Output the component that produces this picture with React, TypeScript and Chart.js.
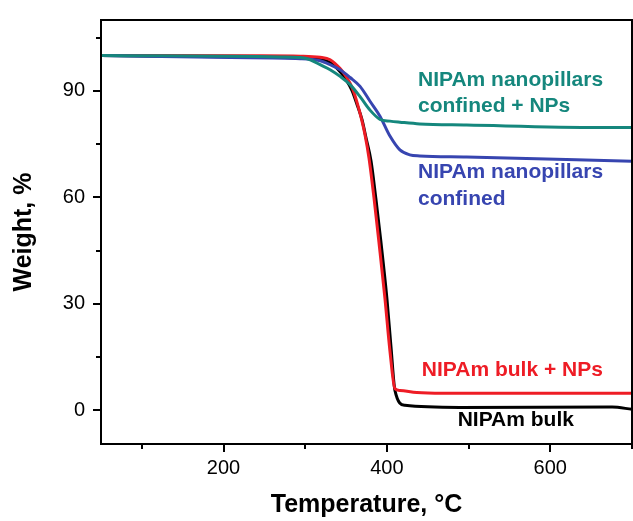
import React, { useEffect, useRef } from "react";
import { Chart, registerables } from "chart.js";

Chart.register(...registerables);

// Temperature (°C) / weight (%) pairs
const bulkX = [50, 233, 294, 318, 330.5, 342.7, 350, 357.3, 363.4, 369.5, 374.4, 380.5, 386.6, 392.7, 400, 404.9, 409.8, 422, 489, 675.6, 700];
const bulkY = [100, 99.6, 99.3, 98.9, 98.0, 95.4, 93.2, 90.1, 86.2, 81.9, 76.8, 70.3, 59.4, 47.4, 31.5, 18.1, 5.6, 1.4, 0.8, 0.9, 0.3];

const bulkNPsX = [50, 233, 294, 318, 330.5, 342.7, 350, 357.3, 363.4, 368.3, 373.2, 378, 384.1, 390.2, 397.6, 403.7, 409.8, 415.9, 436.6, 468.3, 700];
const bulkNPsY = [100, 99.9, 99.8, 99.5, 98.8, 96.3, 94.1, 91.0, 86.8, 82.6, 77.6, 71.2, 60.0, 47.4, 31.5, 16.7, 6.1, 5.6, 5.0, 4.8, 4.8];

const confX = [50, 208.5, 294, 318.3, 330.5, 342.7, 354.9, 367.1, 379.3, 391.5, 403.7, 415.9, 428, 440.2, 497.6, 700];
const confY = [100, 99.4, 99.1, 98.5, 97.4, 96.0, 93.8, 91.3, 87.1, 82.9, 77.3, 73.4, 72.0, 71.7, 71.4, 70.2];

const confNPsX = [50, 269.5, 294, 306.1, 318.3, 330.5, 342.7, 354.9, 367.1, 379.3, 391.5, 403.7, 415.9, 440.2, 497.6, 659.8, 700];
const confNPsY = [100, 99.6, 99.4, 98.8, 97.4, 96.0, 94.1, 91.8, 88.4, 84.6, 82.0, 81.5, 81.2, 80.7, 80.4, 79.7, 79.7];

const xMajorTicks = [200, 400, 600];
const xMinorTicks = [100, 300, 500, 700];
const yMajorTicks = [0, 30, 60, 90];
const yMinorTicks = [15, 45, 75, 105];

const TEAL = "#15877d";
const BLUE = "#3745b0";
const RED = "#ee1c25";
const BLACK = "#000000";

const labelTexts = [
  { text: "NIPAm nanopillars", x: 438, y: 92.9, color: TEAL },
  { text: "confined + NPs", x: 438, y: 85.7, color: TEAL },
  { text: "NIPAm nanopillars", x: 438, y: 67.0, color: BLUE },
  { text: "confined", x: 438, y: 59.4, color: BLUE },
  { text: "NIPAm bulk + NPs", x: 442.7, y: 11.2, color: RED },
  { text: "NIPAm bulk", x: 486.6, y: -2.8, color: BLACK },
];

const FONT = '"Liberation Sans", Arial, sans-serif';

const zip = (xs: number[], ys: number[]) => xs.map((x, i) => ({ x, y: ys[i] }));

const framePlugin = {
  id: "frameAndMinor",
  afterDatasetsDraw(chart: any) {
    const { ctx, chartArea } = chart;
    const xs = chart.scales.x;
    const ys = chart.scales.y;
    ctx.save();
    ctx.strokeStyle = "#000";
    ctx.lineWidth = 2;
    ctx.strokeRect(chartArea.left, chartArea.top, chartArea.right - chartArea.left, chartArea.bottom - chartArea.top);
    ctx.beginPath();
    xMinorTicks.forEach((v) => {
      const px = Math.round(xs.getPixelForValue(v));
      ctx.moveTo(px, chartArea.bottom);
      ctx.lineTo(px, chartArea.bottom + 5);
    });
    yMinorTicks.forEach((v) => {
      const py = Math.round(ys.getPixelForValue(v));
      ctx.moveTo(chartArea.left, py);
      ctx.lineTo(chartArea.left - 5, py);
    });
    ctx.stroke();
    ctx.font = `bold 21px ${FONT}`;
    ctx.textAlign = "left";
    ctx.textBaseline = "middle";
    labelTexts.forEach((l) => {
      ctx.fillStyle = l.color;
      ctx.fillText(l.text, xs.getPixelForValue(l.x), ys.getPixelForValue(l.y));
    });
    ctx.restore();
  },
};

export default function App() {
  const ref = useRef<HTMLCanvasElement | null>(null);
  useEffect(() => {
    if (!ref.current) return;
    const mk = (label: string, xs: number[], ys: number[], color: string) => ({
      label,
      data: zip(xs, ys),
      borderColor: color,
      backgroundColor: color,
      borderWidth: 3,
      pointRadius: 0,
      cubicInterpolationMode: "monotone" as const,
      fill: false,
    });
    const chart = new Chart(ref.current, {
      type: "line",
      data: {
        datasets: [
          mk("NIPAm nanopillars confined + NPs", confNPsX, confNPsY, TEAL),
          mk("NIPAm nanopillars confined", confX, confY, BLUE),
          mk("NIPAm bulk + NPs", bulkNPsX, bulkNPsY, RED),
          mk("NIPAm bulk", bulkX, bulkY, BLACK),
        ],
      },
      options: {
        animation: false,
        responsive: false,
        layout: { padding: { top: 16, right: 1, left: 0, bottom: 0 } },
        plugins: { legend: { display: false }, tooltip: { enabled: false } },
        scales: {
          x: {
            type: "linear",
            min: 50,
            max: 700,
            afterBuildTicks: (s: any) => {
              s.ticks = xMajorTicks.map((v) => ({ value: v }));
            },
            afterFit: (s: any) => {
              s.height = 77;
            },
            grid: { drawOnChartArea: false, drawTicks: true, tickLength: 8, color: "#000", lineWidth: 2 },
            border: { display: true, color: "#000", width: 2 },
            ticks: { color: "#000", font: { family: FONT, size: 20 }, padding: 4, maxRotation: 0 },
            title: {
              display: true,
              text: "Temperature, °C",
              color: "#000",
              font: { family: FONT, size: 25, weight: "bold" },
              padding: { top: 0, bottom: 1 },
            },
          },
          y: {
            type: "linear",
            min: -9.5,
            max: 110,
            afterBuildTicks: (s: any) => {
              s.ticks = yMajorTicks.map((v) => ({ value: v }));
            },
            afterFit: (s: any) => {
              s.width = 101;
            },
            grid: { drawOnChartArea: false, drawTicks: true, tickLength: 8, color: "#000", lineWidth: 2 },
            border: { display: true, color: "#000", width: 2 },
            ticks: { color: "#000", font: { family: FONT, size: 20 }, padding: 8 },
            title: {
              display: true,
              text: "Weight, %",
              color: "#000",
              font: { family: FONT, size: 25, weight: "bold" },
              padding: { top: 9, bottom: 0 },
            },
          },
        },
      },
      plugins: [framePlugin],
    });
    return () => chart.destroy();
  }, []);
  return (
    <div style={{ position: "fixed", left: 0, top: 0, width: 633, height: 521, background: "#fff" }}>
      <canvas ref={ref} width={633} height={521} style={{ display: "block" }} />
    </div>
  );
}
